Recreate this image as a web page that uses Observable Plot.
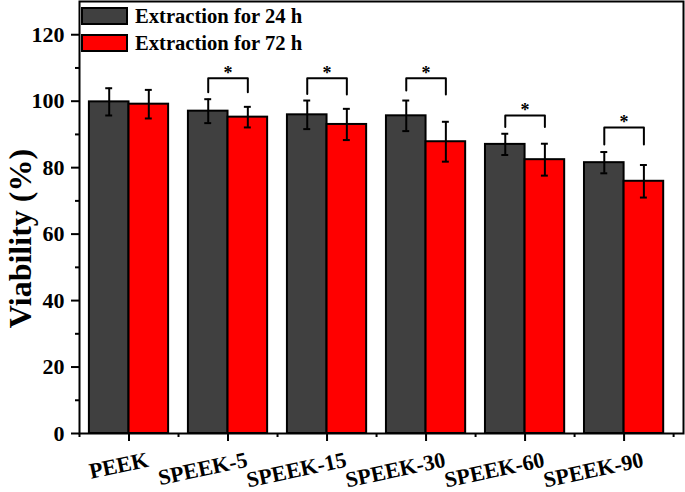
<!DOCTYPE html>
<html>
<head>
<meta charset="utf-8">
<script src="https://cdn.jsdelivr.net/npm/d3@7"></script>
<script src="https://cdn.jsdelivr.net/npm/@observablehq/plot@0.6"></script>
<style>
  html, body { margin: 0; padding: 0; background: #fff; }
  #wrap { position: relative; width: 685px; height: 492px; font-family: "Liberation Serif", "Times New Roman", serif; }
  .sw { position: absolute; left: 81px; width: 47px; height: 18px; box-sizing: border-box; border: 2px solid #000; }
  .lt { position: absolute; left: 135px; font-size: 20.6px; font-weight: bold; line-height: 20px; white-space: nowrap; color: #000; }
</style>
</head>
<body>
<div id="wrap"></div>
<script>
const categories = ["PEEK", "SPEEK-5", "SPEEK-15", "SPEEK-30", "SPEEK-60", "SPEEK-90"];
const series = ["Extraction for 24 h", "Extraction for 72 h"];
const colors = ["#404040", "#ff0000"];
const v24 = [99.8, 97.0, 95.9, 95.6, 87.0, 81.5];
const e24 = [4.1, 3.6, 4.3, 4.6, 3.2, 3.2];
const v72 = [99.1, 95.2, 93.0, 87.8, 82.4, 75.9];
const e72 = [4.3, 3.1, 4.7, 6.0, 4.8, 4.9];
// significance brackets (SPEEK-5 .. SPEEK-90)
const sigGroups = ["SPEEK-5", "SPEEK-15", "SPEEK-30", "SPEEK-60", "SPEEK-90"];
const sigTop = [106.9, 106.9, 106.9, 95.7, 92.1];
const sigLeftEnd = [102.7, 102.2, 103.2, 92.2, 87.0];
const sigRightEnd = [102.7, 102.0, 102.0, 92.2, 87.0];
const yTicks = [0, 20, 40, 60, 80, 100, 120];
const yMinor = [10, 30, 50, 70, 90, 110];

const pos = c => categories.indexOf(c) + 1;
const half = 0.4;
const bars = [];
categories.forEach((c, i) => {
  bars.push({cat: c, s: 0, v: v24[i], e: e24[i], x1: pos(c) - half, x2: pos(c), xc: pos(c) - half / 2});
  bars.push({cat: c, s: 1, v: v72[i], e: e72[i], x1: pos(c), x2: pos(c) + half, xc: pos(c) + half / 2});
});
const capW = 0.035;
const brackets = [];
sigGroups.forEach((g, i) => {
  const p = pos(g);
  brackets.push({g, x: p - half / 2, y: sigLeftEnd[i]});
  brackets.push({g, x: p - half / 2, y: sigTop[i]});
  brackets.push({g, x: p + half / 2, y: sigTop[i]});
  brackets.push({g, x: p + half / 2, y: sigRightEnd[i]});
});
const stars = sigGroups.map((g, i) => ({x: pos(g), y: sigTop[i]}));
const font = "Liberation Serif";

const chart = Plot.plot({
  width: 685,
  height: 492,
  marginLeft: 79,
  marginRight: 2,
  marginTop: 1,
  marginBottom: 59,
  style: {fontFamily: font, fontWeight: "bold", color: "#000", background: "#fff"},
  x: {type: "linear", domain: [0.5, 6.6], label: null},
  y: {domain: [0, 130], label: null},
  marks: [
    Plot.rectY(bars, {x1: "x1", x2: "x2", y1: 0, y2: "v", fill: d => colors[d.s], stroke: "#000", strokeWidth: 2}),
    Plot.ruleX(bars, {x: "xc", y1: d => d.v - d.e, y2: d => d.v + d.e, stroke: "#000", strokeWidth: 2}),
    Plot.ruleY(bars, {y: d => d.v + d.e, x1: d => d.xc - capW, x2: d => d.xc + capW, stroke: "#000", strokeWidth: 2}),
    Plot.ruleY(bars, {y: d => d.v - d.e, x1: d => d.xc - capW, x2: d => d.xc + capW, stroke: "#000", strokeWidth: 2}),
    Plot.line(brackets, {x: "x", y: "y", z: "g", stroke: "#000", strokeWidth: 2}),
    Plot.text(stars, {x: "x", y: "y", text: () => "*", dy: -5, fontSize: 18, fontWeight: "bold", fontFamily: font, lineAnchor: "middle"}),
    Plot.frame({stroke: "#000", strokeWidth: 2}),
    Plot.axisY({ticks: yTicks, tickSize: 8, tickPadding: 7, fontSize: 22, fontWeight: "bold", fontFamily: font, strokeWidth: 2, label: null}),
    Plot.axisY({ticks: yMinor, tickSize: 4, tickFormat: () => "", strokeWidth: 2, label: null}),
    Plot.axisX({ticks: categories.map(pos), tickSize: 8, tickFormat: () => "", strokeWidth: 2, label: null}),
    Plot.axisX({ticks: [0.5, 1.5, 2.5, 3.5, 4.5, 5.5, 6.5], tickSize: 4, tickFormat: () => "", strokeWidth: 2, label: null}),
    Plot.text(categories, {x: pos, frameAnchor: "bottom", text: d => d, rotate: -12, textAnchor: "end", lineAnchor: "middle", dx: 19, dy: 26, fontSize: 22, fontWeight: "bold", fontFamily: font}),
    Plot.text(["Viability (%)"], {text: d => d, frameAnchor: "left", dx: -59, dy: 21, rotate: -90, textAnchor: "middle", lineAnchor: "middle", fontSize: 32, fontWeight: "bold", fontFamily: font})
  ]
});

const wrap = document.getElementById("wrap");
wrap.appendChild(chart);
const tops = [7, 33.5];
series.forEach((s, i) => {
  const sw = document.createElement("div");
  sw.className = "sw";
  sw.style.top = tops[i] + "px";
  sw.style.background = colors[i];
  wrap.appendChild(sw);
  const t = document.createElement("div");
  t.className = "lt";
  t.style.top = (tops[i] - 1) + "px";
  t.textContent = s;
  wrap.appendChild(t);
});
</script>
</body>
</html>
